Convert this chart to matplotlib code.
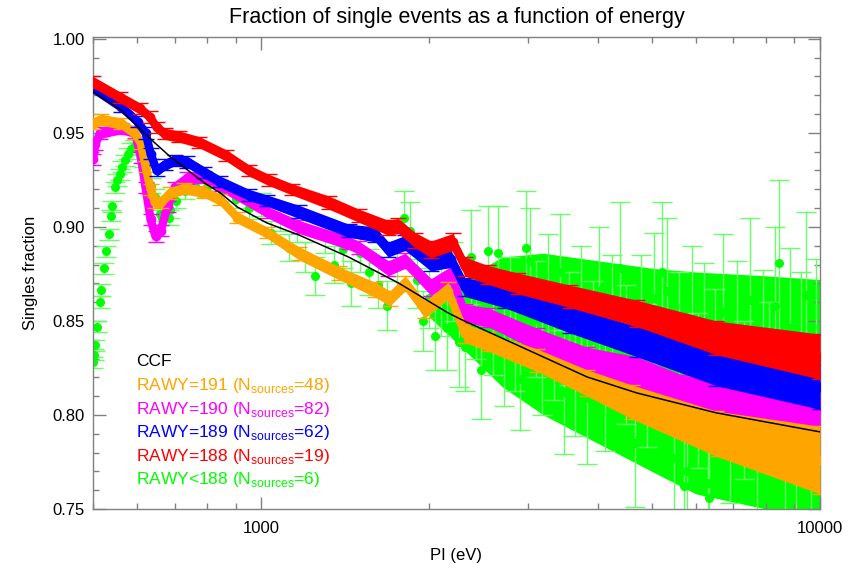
import matplotlib
matplotlib.use("Agg")
import matplotlib.pyplot as plt
from matplotlib.ticker import LogLocator, MultipleLocator, NullFormatter

plt.rcParams['font.family'] = ['Liberation Sans', 'DejaVu Sans']
plt.rcParams['mathtext.fontset'] = 'custom'
plt.rcParams['mathtext.rm'] = 'Liberation Sans'

# ---- data ----
ccf_E = [500, 561, 609, 645, 688, 738, 791, 845, 906, 1024, 1168, 1433, 1760, 2159, 2290, 3831, 4702, 6527, 10000]
ccf_f = [0.9718, 0.9622, 0.9516, 0.9447, 0.9372, 0.9303, 0.9234, 0.9181, 0.9106, 0.9021, 0.8957, 0.884, 0.8702,
         0.8543, 0.8505, 0.8202, 0.8117, 0.8011, 0.791]

org_E = [500, 517, 561, 594, 609, 621, 634, 645, 661, 688, 729, 791, 845, 906, 1024, 1168, 1376, 1601, 1700,
         1810, 1965, 2159, 2314, 2543, 3122, 3831, 4600, 6527, 10000]
org_f = [0.955, 0.957, 0.955, 0.950, 0.9445, 0.932, 0.920, 0.913, 0.913, 0.918, 0.9205, 0.9185, 0.9145, 0.905,
         0.897, 0.886, 0.8755, 0.8665, 0.862, 0.870, 0.856, 0.866, 0.8435, 0.839, 0.829, 0.817, 0.807, 0.790, 0.776]
org_err = [0.003, 0.003, 0.003, 0.003, 0.003, 0.003, 0.003, 0.003, 0.003, 0.003, 0.003, 0.003, 0.003, 0.003,
           0.003, 0.0035, 0.0035, 0.004, 0.004, 0.004, 0.0045, 0.0045, 0.005, 0.005, 0.006, 0.007, 0.009, 0.012, 0.018]

mag_E = [500, 505, 515, 561, 594, 609, 621, 634, 647, 661, 680, 700, 738, 791, 845, 1024, 1168, 1433, 1494,
         1689, 1810, 2014, 2185, 2314, 2543, 3122, 3831, 4702, 5701, 10000]
mag_f = [0.936, 0.944, 0.950, 0.9525, 0.9505, 0.937, 0.921, 0.904, 0.895, 0.898, 0.911, 0.921, 0.926, 0.9265,
         0.922, 0.908, 0.900, 0.8915, 0.889, 0.878, 0.882, 0.868, 0.8745, 0.854, 0.852, 0.840, 0.829, 0.823,
         0.812, 0.803]
mag_err = [0.003, 0.003, 0.003, 0.003, 0.003, 0.003, 0.003, 0.003, 0.003, 0.003, 0.003, 0.003, 0.003, 0.003,
           0.003, 0.003, 0.0035, 0.0035, 0.0035, 0.004, 0.004, 0.0045, 0.0045, 0.005, 0.005, 0.006, 0.007,
           0.008, 0.009, 0.012]

blue_E = [500, 561, 601, 621, 634, 650, 672, 700, 738, 791, 845, 951, 1024, 1168, 1433, 1601, 1689, 1810,
          2014, 2185, 2314, 2727, 3574, 4702, 6527, 10000]
blue_f = [0.974, 0.964, 0.956, 0.950, 0.939, 0.930, 0.933, 0.9355, 0.9345, 0.929, 0.924, 0.917, 0.914, 0.908,
          0.898, 0.896, 0.888, 0.8915, 0.881, 0.883, 0.868, 0.863, 0.8505, 0.839, 0.8255, 0.815]
blue_err = [0.003, 0.003, 0.003, 0.003, 0.003, 0.003, 0.003, 0.003, 0.003, 0.003, 0.003, 0.003, 0.003, 0.0035,
            0.0035, 0.004, 0.004, 0.004, 0.0045, 0.0045, 0.005, 0.006, 0.007, 0.008, 0.010, 0.012]

red_E = [500, 558, 606, 632, 650, 672, 714, 775, 866, 951, 1031, 1135, 1320, 1494, 1689, 1760, 1886, 2014,
         2203, 2314, 2543, 2876, 3574, 4702, 6527, 10000]
red_f = [0.977, 0.969, 0.963, 0.9585, 0.953, 0.9495, 0.948, 0.945, 0.938, 0.930, 0.925, 0.920, 0.913, 0.906,
         0.8995, 0.9005, 0.893, 0.888, 0.892, 0.879, 0.8745, 0.870, 0.863, 0.854, 0.841, 0.831]
red_err = [0.003, 0.003, 0.003, 0.003, 0.003, 0.003, 0.003, 0.003, 0.003, 0.003, 0.003, 0.003, 0.0035, 0.0035,
           0.004, 0.004, 0.004, 0.0045, 0.0045, 0.005, 0.005, 0.0055, 0.006, 0.007, 0.009, 0.012]

green_E = [500, 502, 504, 508, 514, 517, 523, 527, 533, 538, 540, 547, 552, 558, 563, 570, 577, 584, 594, 605,
           618, 634, 645, 658, 665, 685, 688, 705, 730, 760, 800, 850, 900, 950, 1000, 1040, 1080, 1120, 1160,
           1200, 1250, 1300, 1350, 1400, 1450, 1500, 1560, 1620, 1680, 1750, 1800, 1850, 1900, 1950, 2000, 2050,
           2100, 2150, 2200, 2260, 2314, 2372, 2420, 2472, 2543, 2600, 2650, 2720, 2790, 2850, 2899, 2972, 3033,
           3100, 3180, 3260, 3340, 3430, 3486, 3560, 3650, 3740, 3831, 3920, 4020, 4120, 4240, 4386, 4500, 4665,
           4780, 4900, 5050, 5210, 5317, 5472, 5600, 5701, 5771, 5900, 6050, 6200, 6316, 6337, 6500, 6700, 6900,
           7100, 7300, 7500, 7700, 7900, 8100, 8300, 8450, 8650, 8850, 9050, 9250, 9450, 9650, 9850]
green_f = [0.828, 0.832, 0.837, 0.847, 0.860, 0.8665, 0.878, 0.887, 0.896, 0.906, 0.911, 0.921, 0.925, 0.928,
           0.932, 0.9355, 0.939, 0.9415, 0.943, 0.942, 0.935, 0.922, 0.916, 0.907, 0.905, 0.905, 0.909, 0.914,
           0.919, 0.922, 0.921, 0.919, 0.915, 0.910, 0.912, 0.897, 0.905, 0.889, 0.900, 0.884, 0.874, 0.895,
           0.880, 0.888, 0.870, 0.886, 0.876, 0.869, 0.858, 0.879, 0.905, 0.898, 0.872, 0.850, 0.862, 0.842,
           0.862, 0.846, 0.871, 0.839, 0.836, 0.884, 0.852, 0.824, 0.887, 0.848, 0.886, 0.833, 0.858, 0.842,
           0.819, 0.889, 0.882, 0.851, 0.829, 0.864, 0.838, 0.876, 0.812, 0.846, 0.823, 0.858, 0.809, 0.840,
           0.866, 0.817, 0.852, 0.878, 0.832, 0.785, 0.849, 0.821, 0.862, 0.876, 0.866, 0.777, 0.838, 0.762,
           0.770, 0.851, 0.813, 0.843, 0.764, 0.756, 0.828, 0.855, 0.796, 0.842, 0.808, 0.861, 0.782, 0.834,
           0.815, 0.858, 0.881, 0.792, 0.846, 0.771, 0.829, 0.864, 0.784, 0.838]
green_err = [0.003, 0.003, 0.003, 0.003, 0.003, 0.003, 0.003, 0.003, 0.003, 0.003, 0.003, 0.003, 0.003, 0.003,
             0.003, 0.003, 0.003, 0.003, 0.003, 0.003, 0.003, 0.004, 0.004, 0.004, 0.004, 0.004, 0.004, 0.004,
             0.004, 0.004, 0.005, 0.005, 0.005, 0.006, 0.006, 0.006, 0.007, 0.007, 0.008, 0.008, 0.010, 0.009,
             0.010, 0.010, 0.012, 0.010, 0.012, 0.012, 0.013, 0.013, 0.014, 0.015, 0.015, 0.016, 0.016, 0.018,
             0.020, 0.022, 0.021, 0.024, 0.023, 0.025, 0.022, 0.026, 0.024, 0.027, 0.025, 0.028, 0.026, 0.029,
             0.027, 0.030, 0.028, 0.031, 0.029, 0.032, 0.030, 0.031, 0.033, 0.030, 0.034, 0.032, 0.035, 0.031,
             0.034, 0.036, 0.033, 0.035, 0.037, 0.034, 0.036, 0.038, 0.035, 0.037, 0.039, 0.036, 0.038, 0.040,
             0.037, 0.039, 0.041, 0.038, 0.040, 0.042, 0.039, 0.041, 0.043, 0.040, 0.042, 0.044, 0.041, 0.043,
             0.045, 0.042, 0.044, 0.046, 0.043, 0.045, 0.047, 0.044, 0.046, 0.045]

# envelope of the dense (solid-looking) green error bars at high energy
green_band_E = [2000, 2300, 2700, 3200, 4000, 5000, 6000, 8000, 10000]
green_core_hi = [0.860, 0.872, 0.884, 0.886, 0.882, 0.878, 0.876, 0.874, 0.872]
green_core_lo = [0.852, 0.835, 0.815, 0.800, 0.785, 0.770, 0.758, 0.750, 0.750]

labels = ['CCF', 'RAWY=191 (N$_{\\mathrm{sources}}$=48)', 'RAWY=190 (N$_{\\mathrm{sources}}$=82)',
          'RAWY=189 (N$_{\\mathrm{sources}}$=62)', 'RAWY=188 (N$_{\\mathrm{sources}}$=19)',
          'RAWY<188 (N$_{\\mathrm{sources}}$=6)']
colors = ['black', '#ffa500', '#ff00ff', '#0000ff', '#ff0000', '#00ff00']

fig = plt.figure(figsize=(8.5, 5.68), dpi=100)
ax = fig.add_axes([0.1094, 0.1039, 0.8553, 0.831])
ax.set_xscale('log')

# green (RAWY<188)
ax.fill_between(green_band_E, green_core_lo, green_core_hi, color='#00ff00', lw=0, zorder=1.5)
ax.errorbar(green_E, green_f, yerr=green_err, fmt='o', color='#00ff00', ecolor='#66ff66', ms=5.5,
            capsize=7, elinewidth=1, zorder=2)


def band(E, f, err, color, z):
    lo = [a - b for a, b in zip(f, err)]
    hi = [a + b for a, b in zip(f, err)]
    ax.fill_between(E, lo, hi, color=color, lw=0, zorder=z)
    ax.plot(E, f, '-', color=color, lw=6, solid_capstyle='round', solid_joinstyle='round', zorder=z)
    ax.errorbar(E, f, yerr=err, fmt='o', color=color, ms=6, capsize=6, elinewidth=1, zorder=z)


band(mag_E, mag_f, mag_err, colors[2], 3)
band(org_E, org_f, org_err, colors[1], 4)
band(blue_E, blue_f, blue_err, colors[3], 5)
band(red_E, red_f, red_err, colors[4], 6)

ax.plot(ccf_E, ccf_f, color='black', lw=1.1, zorder=10)

ax.set_xlim(500, 10000)
ax.set_ylim(0.75, 1.001)
ax.set_xticks([1000, 10000], ['1000', '10000'])
ax.xaxis.set_minor_locator(LogLocator(base=10, subs=range(2, 10)))
ax.xaxis.set_minor_formatter(NullFormatter())
ax.set_yticks([0.75, 0.80, 0.85, 0.90, 0.95, 1.00], ['0.75', '0.80', '0.85', '0.90', '0.95', '1.00'])
ax.yaxis.set_minor_locator(MultipleLocator(0.01))

for s in ax.spines.values():
    s.set_color('#808080')
    s.set_linewidth(1)
ax.tick_params(which='both', direction='in', top=True, right=True, color='#808080', width=1, labelsize=12)
ax.tick_params(which='major', length=9)
ax.tick_params(which='minor', length=4.5)
ax.tick_params(axis='x', pad=9)
ax.tick_params(axis='y', pad=6)

ax.set_title('Fraction of single events as a function of energy', fontsize=15.5, pad=10)
ax.set_xlabel('PI (eV)', fontsize=12, labelpad=8)
ax.set_ylabel('Singles fraction', fontsize=12, labelpad=10)

for i, (lab, c) in enumerate(zip(labels, colors)):
    fig.text(0.16, 0.3627 - i * 0.0415, lab, color=c, fontsize=12.5, va='center', ha='left')

fig.savefig('out.png', dpi=100)
